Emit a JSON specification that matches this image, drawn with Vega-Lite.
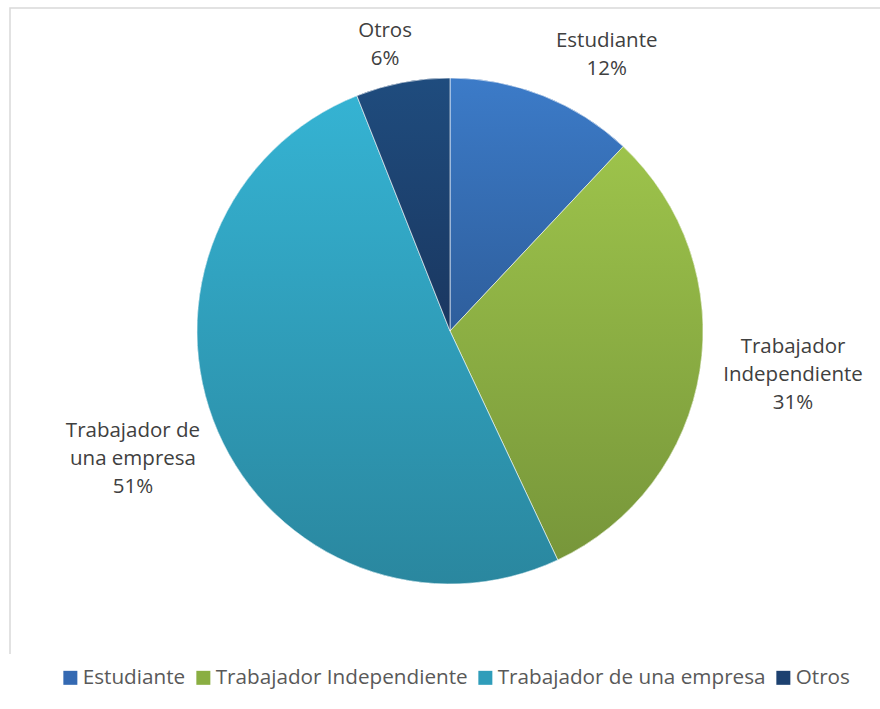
{
  "$schema": "https://vega.github.io/schema/vega-lite/v6.json",
  "width": 880,
  "height": 646,
  "autosize": {"type": "none"},
  "padding": {"left": 10, "top": 8, "right": -10, "bottom": 55},
  "background": "#ffffff",
  "config": {
    "view": {"stroke": "#d9d9d9", "strokeWidth": 1.5, "strokeDash": [1526, 880, 700, 0]},
    "text": {"font": "Open Sans"}
  },
  "data": {
    "values": [
      {"cat": "Estudiante", "value": 12, "ord": 1, "label": "Estudiante\n12%"},
      {"cat": "Trabajador Independiente", "value": 31, "ord": 2, "label": "Trabajador\nIndependiente\n31%"},
      {"cat": "Trabajador de una empresa", "value": 51, "ord": 3, "label": "Trabajador de\nuna empresa\n51%"},
      {"cat": "Otros", "value": 6, "ord": 4, "label": "Otros\n6%"}
    ]
  },
  "layer": [
    {
      "mark": {"type": "rule", "opacity": 0},
      "encoding": {"x": {"value": 0}}
    },
    {
      "mark": {"type": "arc", "outerRadius": 253},
      "encoding": {
        "theta": {"field": "value", "type": "quantitative", "stack": true},
        "order": {"field": "ord", "type": "quantitative"},
        "color": {
          "field": "cat",
          "type": "nominal",
          "scale": {
            "domain": ["Estudiante", "Trabajador Independiente", "Trabajador de una empresa", "Otros"],
            "range": ["#3469b2", "#8aae42", "#2f9dba", "#1d4170"]
          },
          "legend": {
            "title": null,
            "orient": "none",
            "direction": "horizontal",
            "legendX": 50,
            "legendY": 659,
            "padding": 0,
            "symbolType": "square",
            "symbolSize": 196,
            "symbolStrokeWidth": 0,
            "symbolOpacity": 1,
            "labelFont": "Open Sans",
            "labelFontSize": 20.7,
            "labelColor": "#595959",
            "labelOffset": 2,
            "columnPadding": 7,
            "labelLimit": 400
          }
        }
      }
    },
    {
      "mark": {"type": "arc", "outerRadius": 253, "stroke": "#ffffff", "strokeWidth": 0.75, "strokeOpacity": 0.8},
      "encoding": {
        "theta": {"field": "value", "type": "quantitative", "stack": true},
        "order": {"field": "ord", "type": "quantitative"},
        "color": {
          "condition": [
            {"test": "datum.cat === 'Estudiante'", "value": {"gradient": "linear", "x1": 0, "y1": 0, "x2": 0, "y2": 1, "stops": [{"offset": 0, "color": "#3c7bc8"}, {"offset": 1, "color": "#2e5e9c"}]}},
            {"test": "datum.cat === 'Trabajador Independiente'", "value": {"gradient": "linear", "x1": 0, "y1": 0, "x2": 0, "y2": 1, "stops": [{"offset": 0, "color": "#9dc34b"}, {"offset": 1, "color": "#77963a"}]}},
            {"test": "datum.cat === 'Trabajador de una empresa'", "value": {"gradient": "linear", "x1": 0, "y1": 0, "x2": 0, "y2": 1, "stops": [{"offset": 0, "color": "#35b3d3"}, {"offset": 1, "color": "#2a879f"}]}}
          ],
          "value": {"gradient": "linear", "x1": 0, "y1": 0, "x2": 0, "y2": 1, "stops": [{"offset": 0, "color": "#1f4c7e"}, {"offset": 1, "color": "#1a3760"}]}
        }
      }
    },
    {
      "mark": {"type": "text", "radius": 317, "thetaOffset": 0.14, "dy": -14, "lineBreak": "\n", "fontSize": 20.5, "lineHeight": 28, "color": "#404040", "baseline": "middle"},
      "encoding": {
        "theta": {"field": "value", "type": "quantitative", "stack": true},
        "order": {"field": "ord", "type": "quantitative"},
        "text": {"condition": {"test": "datum.cat === 'Estudiante'", "field": "label"}, "value": ""}
      }
    },
    {
      "mark": {"type": "text", "radius": 346, "thetaOffset": -0.026, "dy": -29, "lineBreak": "\n", "fontSize": 20.5, "lineHeight": 28, "color": "#404040", "baseline": "middle"},
      "encoding": {
        "theta": {"field": "value", "type": "quantitative", "stack": true},
        "order": {"field": "ord", "type": "quantitative"},
        "text": {"condition": {"test": "datum.cat === 'Trabajador Independiente'", "field": "label"}, "value": ""}
      }
    },
    {
      "mark": {"type": "text", "radius": 342, "thetaOffset": 0.024, "dy": -28, "lineBreak": "\n", "fontSize": 20.5, "lineHeight": 28, "color": "#404040", "baseline": "middle"},
      "encoding": {
        "theta": {"field": "value", "type": "quantitative", "stack": true},
        "order": {"field": "ord", "type": "quantitative"},
        "text": {"condition": {"test": "datum.cat === 'Trabajador de una empresa'", "field": "label"}, "value": ""}
      }
    },
    {
      "mark": {"type": "text", "radius": 293, "thetaOffset": -0.035, "dy": -14, "lineBreak": "\n", "fontSize": 20.5, "lineHeight": 28, "color": "#404040", "baseline": "middle"},
      "encoding": {
        "theta": {"field": "value", "type": "quantitative", "stack": true},
        "order": {"field": "ord", "type": "quantitative"},
        "text": {"condition": {"test": "datum.cat === 'Otros'", "field": "label"}, "value": ""}
      }
    }
  ]
}
